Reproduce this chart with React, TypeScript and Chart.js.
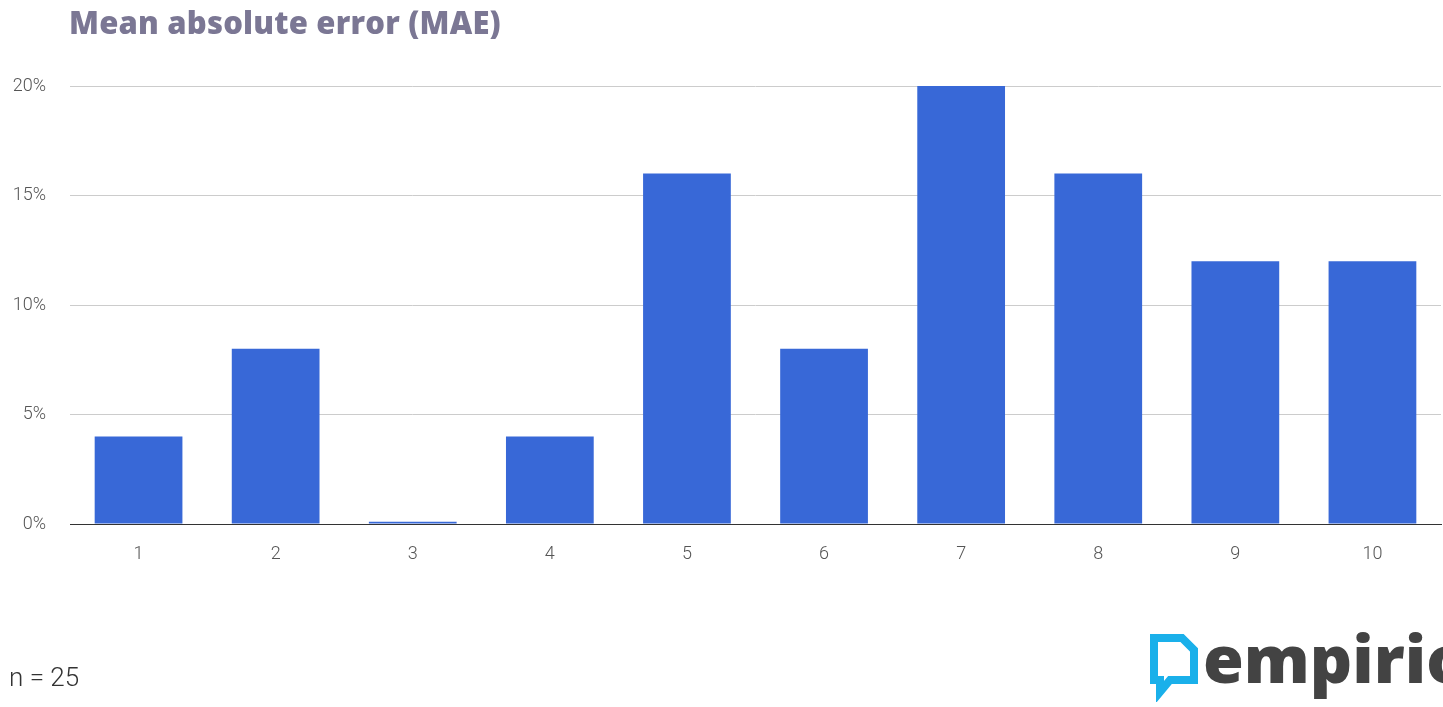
import React, { useEffect, useRef } from "react";
import { Chart, registerables } from "chart.js";

Chart.register(...registerables);

const categories = ["1", "2", "3", "4", "5", "6", "7", "8", "9", "10"];
const maeValues = [4, 8, 0.1, 4, 16, 8, 20, 16, 12, 12];
const yTicks = [0, 5, 10, 15, 20];
const titleText = "Mean absolute error (MAE)";
const sampleText = "n = 25";
const brandText = "empirio";

export default function App() {
  const canvasRef = useRef<HTMLCanvasElement | null>(null);

  useEffect(() => {
    document.body.style.margin = "0";
    const ctx = canvasRef.current;
    if (!ctx) return;
    const chart = new Chart(ctx, {
      type: "bar",
      data: {
        labels: categories,
        datasets: [
          {
            data: maeValues,
            backgroundColor: "#3868d7",
            borderWidth: 0,
            barPercentage: 0.64,
            categoryPercentage: 1,
          },
        ],
      },
      options: {
        animation: false,
        responsive: false,
        maintainAspectRatio: false,
        layout: { padding: { top: 86, right: 2, left: 0, bottom: 0 } },
        plugins: { legend: { display: false }, tooltip: { enabled: false }, title: { display: false } },
        scales: {
          x: {
            grid: { display: false, drawTicks: false },
            border: { display: true, color: "#333333", width: 1 },
            ticks: {
              color: "#555555",
              font: { family: "Roboto", size: 18, weight: 300 },
              padding: 20,
            },
            afterFit: (scale: any) => {
              scale.height = 707 - 524;
            },
          },
          y: {
            min: 0,
            max: 20,
            afterBuildTicks: (scale: any) => {
              scale.ticks = yTicks.map((v) => ({ value: v }));
            },
            grid: {
              color: (c: any) => (c.tick && c.tick.value === 0 ? "#333333" : "#cccccc"),
              drawTicks: false,
              lineWidth: 1,
            },
            border: { display: false },
            ticks: {
              color: "#555555",
              font: { family: "Roboto", size: 18, weight: 300 },
              padding: 24,
              callback: (v: any) => v + "%",
            },
            afterFit: (scale: any) => {
              scale.width = 70;
            },
          },
        },
      },
    });
    return () => chart.destroy();
  }, []);

  return (
    <div style={{ position: "fixed", left: 0, top: 0, width: 1443, height: 707, overflow: "hidden", background: "#ffffff" }}>
      <canvas ref={canvasRef} width={1443} height={707} style={{ position: "absolute", left: 0, top: 0 }} />
      <div
        style={{
          position: "absolute",
          left: 69,
          top: 1,
          fontFamily: "'Open Sans', sans-serif",
          fontWeight: 800,
          fontSize: 31,
          color: "#7b7794",
          whiteSpace: "nowrap",
          letterSpacing: 0.2,
        }}
      >
        {titleText}
      </div>
      <div
        style={{
          position: "absolute",
          left: 9,
          top: 662,
          fontFamily: "Roboto, sans-serif",
          fontSize: 26,
          fontWeight: 300,
          color: "#333333",
          whiteSpace: "nowrap",
        }}
      >
        {sampleText}
      </div>
      <svg style={{ position: "absolute", left: 1148, top: 630 }} width={52} height={72} viewBox="0 0 52 72">
        <path
          d="M6 8 L34 8 L46 20 L46 50 L22 50 L12 62 L12 50 L6 50 Z"
          fill="none"
          stroke="#1ab0ea"
          strokeWidth={8}
          strokeLinejoin="miter"
        />
      </svg>
      <div
        style={{
          position: "absolute",
          left: 1203,
          top: 612,
          fontFamily: "'Open Sans', sans-serif",
          fontWeight: 800,
          fontSize: 66,
          color: "#434343",
          whiteSpace: "nowrap",
          letterSpacing: 0,
        }}
      >
        {brandText}
      </div>
    </div>
  );
}
